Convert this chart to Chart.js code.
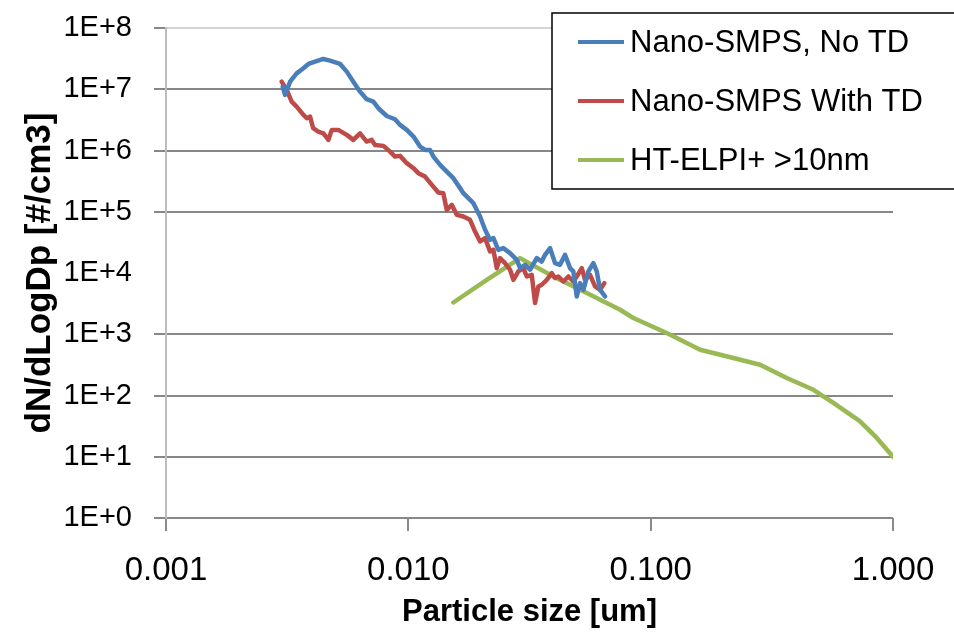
<!DOCTYPE html>
<html><head><meta charset="utf-8">
<script src="https://cdn.jsdelivr.net/npm/chart.js@4.4.1/dist/chart.umd.min.js"></script>
<style>html,body{margin:0;padding:0;background:#fff;} #wrap{width:954px;height:635px;position:relative;}</style>
</head><body><div id="wrap"><canvas id="c" width="954" height="635"></canvas></div>
<script>
// ---- data ----
const seriesNames = ['Nano-SMPS, No TD', 'Nano-SMPS With TD', 'HT-ELPI+ >10nm'];

const noTdSize = [0.00303,0.00310,0.00325,0.00346,0.00369,0.00387,0.00412,0.00446,0.00475,0.00523,0.00557,0.00593,0.00632,0.00673,0.00717,0.00752,0.00815,0.00881,0.00924,0.00985,0.0105,0.01118,0.01172,0.01229,0.01269,0.01352,0.01441,0.01534,0.01635,0.01687,0.01855,0.01977,0.02073,0.02174,0.02244,0.02352,0.02466,0.02629,0.02803,0.02891,0.03031,0.03178,0.03388,0.03553,0.03666,0.03845,0.04031,0.04227,0.04432,0.04649,0.04797,0.04955,0.05113,0.05276,0.05533,0.05801,0.05992,0.06183,0.06484];
const noTdN = [1.10e7,8.07e6,1.33e7,1.82e7,2.20e7,2.59e7,2.82e7,3.12e7,2.93e7,2.59e7,1.94e7,1.33e7,9.14e6,6.87e6,6.28e6,4.90e6,3.66e6,3.24e6,2.62e6,2.17e6,1.69e6,1.16e6,1.02e6,1.02e6,7.96e5,5.82e5,4.53e5,3.53e5,2.43e5,2.01e5,1.38e5,8.35e4,5.07e4,3.48e4,3.71e4,2.39e4,2.55e4,2.11e4,1.64e4,1.20e4,1.36e4,1.13e4,1.75e4,1.54e4,1.98e4,2.55e4,1.45e4,1.36e4,1.98e4,1.20e4,1.06e4,4.14e3,6.84e3,5.32e3,1.06e4,1.45e4,1.06e4,5.32e3,4.14e3];

const withTdSize = [0.00300,0.00315,0.00330,0.00346,0.00369,0.00381,0.00393,0.00405,0.00425,0.00446,0.00468,0.00483,0.00514,0.00557,0.00593,0.00632,0.00673,0.00706,0.00729,0.00789,0.00841,0.00881,0.00924,0.00985,0.0105,0.01100,0.01172,0.01250,0.01330,0.01394,0.01441,0.01511,0.01584,0.01687,0.01797,0.01885,0.01977,0.02073,0.02174,0.02244,0.02317,0.02390,0.02506,0.02629,0.02713,0.02844,0.02983,0.03081,0.03230,0.03334,0.03440,0.03553,0.03726,0.03907,0.04031,0.04159,0.04362,0.04575,0.04797,0.04955,0.05196,0.05362,0.05622,0.05896,0.06183,0.06441];
const withTdN = [1.33e7,9.74e6,6.28e6,5.20e6,3.81e6,3.37e6,3.57e6,2.31e6,2.03e6,1.91e6,1.49e6,2.17e6,2.17e6,1.80e6,1.49e6,1.91e6,1.40e6,1.49e6,1.23e6,1.19e6,9.59e5,7.96e5,8.17e5,6.21e5,5.14e5,4.27e5,3.75e5,2.75e5,2.06e5,2.01e5,1.07e5,1.30e5,8.90e4,8.35e4,7.38e4,4.75e4,3.27e4,3.71e4,2.24e4,2.39e4,1.20e4,1.75e4,1.45e4,1.13e4,7.74e3,1.06e4,1.20e4,8.77e3,9.35e3,3.23e3,6.03e3,6.43e3,7.74e3,9.95e3,8.26e3,8.77e3,7.26e3,8.77e3,7.26e3,8.77e3,1.20e4,7.74e3,9.35e3,6.03e3,5.32e3,6.84e3];

const elpiSize = [0.01534,0.02107,0.02891,0.03967,0.05450,0.07477,0.08486,0.1165,0.1600,0.2194,0.2828,0.3645,0.4695,0.5675,0.7313,0.8574,1.0];
const elpiN = [3.30e3,7.74e3,1.75e4,8.77e3,4.70e3,2.51e3,1.84e3,1.05e3,558,409,318,193,124,75.5,37.8,20.3,10];

const xTickValues = [0.001, 0.01, 0.1, 1];
const xTickLabels = ['0.001', '0.010', '0.100', '1.000'];
const yTickValues = [1, 10, 100, 1e3, 1e4, 1e5, 1e6, 1e7, 1e8];
const yTickLabels = ['1E+0', '1E+1', '1E+2', '1E+3', '1E+4', '1E+5', '1E+6', '1E+7', '1E+8'];

const xTitle = 'Particle size [um]';
const yTitle = 'dN/dLogDp [#/cm3]';
const colors = ['#4A7EBB', '#BE4B48', '#98B954'];

// ---- build ----
function pts(xs, ys) { return xs.map((x, i) => ({x: x, y: ys[i]})); }

const legendPlugin = {
  id: 'boxLegend',
  afterDraw(chart) {
    const ctx = chart.ctx;
    ctx.save();
    ctx.fillStyle = '#fff';
    ctx.fillRect(552, 13, 410, 176);
    ctx.strokeStyle = '#000'; ctx.lineWidth = 1.5;
    ctx.strokeRect(552, 13, 410, 176);
    chart.data.datasets.forEach((ds, i) => {
      const y = 42 + i * 59;
      ctx.strokeStyle = ds.borderColor; ctx.lineWidth = 4;
      ctx.beginPath(); ctx.moveTo(578, y); ctx.lineTo(624, y); ctx.stroke();
      ctx.fillStyle = '#000';
      ctx.font = '31px "Liberation Sans", Arial, sans-serif';
      ctx.textBaseline = 'middle';
      ctx.fillText(ds.label, 630, y + 1);
    });
    ctx.restore();
  }
};

const hideTick = (c, base) => (c.tick && c.tick.value === 1e4) ? 'rgba(0,0,0,0)' : base;

new Chart(document.getElementById('c'), {
  type: 'line',
  data: {
    datasets: [
      {label: seriesNames[0], data: pts(noTdSize, noTdN), borderColor: colors[0], backgroundColor: colors[0]},
      {label: seriesNames[1], data: pts(withTdSize, withTdN), borderColor: colors[1], backgroundColor: colors[1]},
      {label: seriesNames[2], data: pts(elpiSize, elpiN), borderColor: colors[2], backgroundColor: colors[2]}
    ]
  },
  options: {
    responsive: false,
    animation: false,
    devicePixelRatio: 1,
    elements: {
      line: {borderWidth: 4.5, tension: 0, fill: false, borderCapStyle: 'round', borderJoinStyle: 'round'},
      point: {radius: 0, hoverRadius: 0}
    },
    layout: {padding: {top: 28, right: 61, left: 0, bottom: 0}},
    plugins: {legend: {display: false}, tooltip: {enabled: false}},
    scales: {
      x: {
        type: 'logarithmic', min: 0.001, max: 1,
        afterBuildTicks: s => { s.ticks = xTickValues.map(v => ({value: v})); },
        afterFit: s => { s.height = 117; s.paddingLeft = 0; s.paddingRight = 0; },
        ticks: {
          autoSkip: false, maxRotation: 0, color: '#000', padding: 20,
          font: {family: '"Liberation Sans", Arial, sans-serif', size: 33},
          callback: (v, i) => xTickLabels[i]
        },
        grid: {drawOnChartArea: false, drawTicks: true, tickLength: 13, color: '#8a8a8a', lineWidth: 2},
        border: {display: false},
        title: {display: true, text: xTitle, color: '#000', padding: {top: 0, bottom: 4},
          font: {family: '"Liberation Sans", Arial, sans-serif', size: 31, weight: 'bold'}}
      },
      y: {
        type: 'logarithmic', min: 1, max: 1e8,
        afterBuildTicks: s => { s.ticks = yTickValues.map(v => ({value: v})); },
        afterFit: s => { s.width = 166; s.paddingTop = 0; s.paddingBottom = 0; },
        ticks: {
          autoSkip: false, color: '#000', padding: 22,
          font: {family: '"Liberation Sans", Arial, sans-serif', size: 29},
          callback: (v, i) => yTickLabels[i]
        },
        grid: {
          drawOnChartArea: true, drawTicks: true, tickLength: 12, lineWidth: 2,
          color: c => hideTick(c, c.tick && c.tick.value === 1e8 ? '#d4d4d4' : '#878787'),
          tickColor: c => hideTick(c, '#878787')
        },
        border: {display: true, color: '#bdbdbd', width: 2},
        title: {display: true, text: yTitle, color: '#000', padding: {top: 19, bottom: 0},
          font: {family: '"Liberation Sans", Arial, sans-serif', size: 35, weight: 'bold'}}
      }
    }
  },
  plugins: [legendPlugin]
});
</script>
</body></html>
